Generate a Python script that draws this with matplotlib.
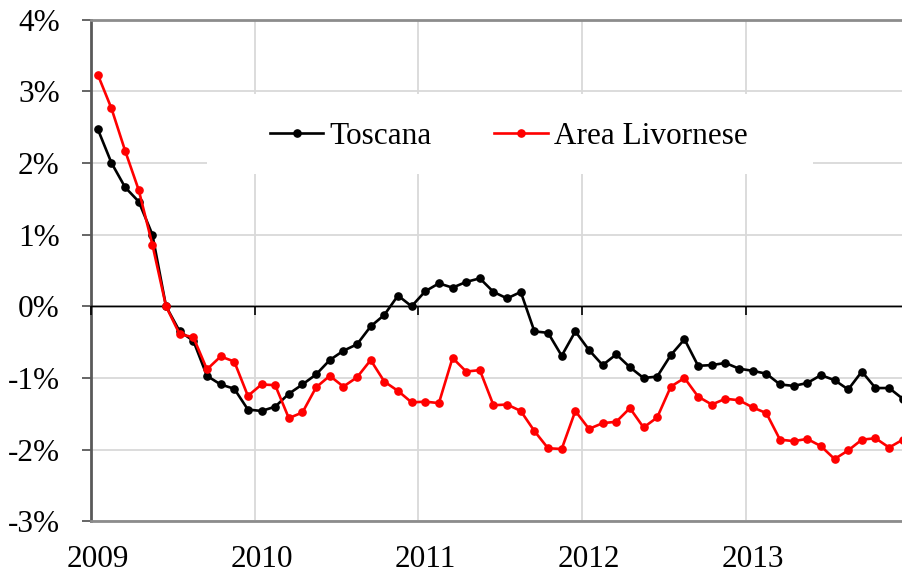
import numpy as np
import matplotlib
matplotlib.use("Agg")
import matplotlib.pyplot as plt
from matplotlib.patches import Rectangle

# monthly values, Jan 2009 .. Dec 2013 (percent)
toscana = [2.47, 2.00, 1.66, 1.46, 1.00, 0.00, -0.35, -0.48, -0.97, -1.09, -1.15, -1.44,
           -1.46, -1.40, -1.22, -1.09, -0.95, -0.75, -0.62, -0.53, -0.28, -0.12, 0.15, 0.00,
           0.21, 0.32, 0.26, 0.34, 0.39, 0.20, 0.11, 0.20, -0.35, -0.37, -0.69, -0.35,
           -0.61, -0.82, -0.67, -0.85, -1.00, -0.98, -0.68, -0.46, -0.83, -0.82, -0.79, -0.87,
           -0.90, -0.94, -1.09, -1.11, -1.07, -0.96, -1.03, -1.16, -0.91, -1.14, -1.14, -1.29]
livorno = [3.23, 2.76, 2.17, 1.62, 0.86, 0.00, -0.39, -0.43, -0.88, -0.70, -0.77, -1.25,
           -1.09, -1.10, -1.56, -1.48, -1.13, -0.97, -1.12, -0.99, -0.75, -1.05, -1.18, -1.34,
           -1.33, -1.35, -0.72, -0.91, -0.89, -1.38, -1.37, -1.46, -1.74, -1.98, -1.99, -1.46,
           -1.71, -1.63, -1.61, -1.42, -1.69, -1.55, -1.12, -1.00, -1.26, -1.37, -1.29, -1.31,
           -1.41, -1.49, -1.86, -1.88, -1.85, -1.95, -2.13, -2.01, -1.86, -1.84, -1.97, -1.86]
years = ["2009", "2010", "2011", "2012", "2013"]
y_ticks = [-3, -2, -1, 0, 1, 2, 3, 4]

plt.rcParams['font.family'] = ['Liberation Serif', 'DejaVu Serif']
FS = 22.5

W, H = 903, 577
fig = plt.figure(figsize=(W / 100, H / 100), dpi=100)
ax = fig.add_axes([91 / W, 1 - 521.4 / H, (909.6 - 91) / W, (521.4 - 19.5) / H])

x = np.arange(len(toscana))
ax.plot(x, toscana, color='black', lw=1.9, marker='o', ms=5.2, label='Toscana', zorder=4)
ax.plot(x, livorno, color='#ff0000', lw=1.9, marker='o', ms=5.2, label='Area Livornese', zorder=4)

ax.set_xlim(-0.5, len(x) - 0.5)
ax.set_ylim(-3, 4)

# year labels on January, gridlines on year boundaries
ax.set_xticks(np.arange(len(years)) * 12)
ax.set_xticklabels(years, fontsize=FS)
ax.set_xticks(np.arange(1, len(years)) * 12 - 0.5, minor=True)
ax.tick_params(axis='x', which='both', length=0, pad=17)
ax.xaxis.grid(True, which='minor', color='#d9d9d9', lw=1.3)

ax.set_yticks(y_ticks)
ax.set_yticklabels([f"{v}%" for v in y_ticks], fontsize=FS)
ax.tick_params(axis='y', direction='out', length=6.5, width=1.3, color='#595959', pad=16)
ax.yaxis.grid(True, color='#d9d9d9', lw=1.3)
ax.set_axisbelow(True)

# zero axis line with tick marks on year boundaries
ax.axhline(0, color='black', lw=1, zorder=3)
sec = ax.secondary_xaxis(3 / 7)
sec.set_zorder(3)
sec.set_xticks(np.arange(0, len(years)) * 12 - 0.5)
sec.tick_params(axis='x', direction='out', length=6.5, width=1.2, color='black',
                labelbottom=False, labeltop=False)
sec.spines['bottom'].set_color('black')
sec.spines['bottom'].set_linewidth(1)

ax.spines['left'].set_color('#595959')
ax.spines['left'].set_linewidth(2)
for s in ['top', 'bottom']:
    ax.spines[s].set_color('#8c8c8c')
    ax.spines[s].set_linewidth(2)
ax.spines['right'].set_visible(False)

# white legend area
ax.add_patch(Rectangle((207 / W, 1 - 174 / H), (813 - 207) / W, (174 - 94) / H,
                       transform=fig.transFigure, facecolor='white', edgecolor='none', zorder=2))
ax.legend(ncol=2, loc='center', bbox_to_anchor=(509 / W, 1 - 136 / H), bbox_transform=fig.transFigure,
          frameon=False, fontsize=FS, handlelength=1.7, handletextpad=0.2, columnspacing=2.0)

fig.savefig("out.png", dpi=100)
